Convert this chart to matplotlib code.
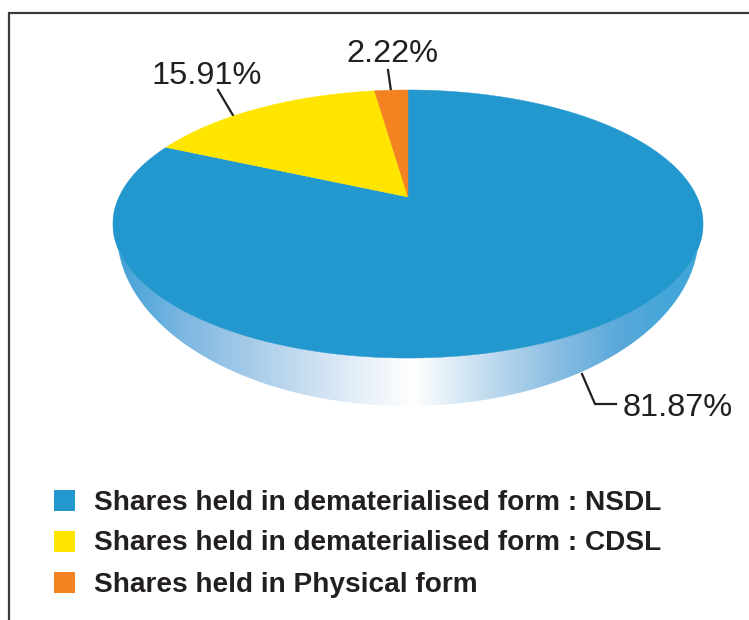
import numpy as np
import matplotlib
matplotlib.use("Agg")
import matplotlib.pyplot as plt
from matplotlib.patches import Polygon, Rectangle
from matplotlib.colors import LinearSegmentedColormap

categories = ["Shares held in dematerialised form : NSDL",
              "Shares held in dematerialised form : CDSL",
              "Shares held in Physical form"]
shares = [81.87, 15.91, 2.22]
colors = ["#2398CE", "#FFE500", "#F58220"]
value_labels = ["81.87%", "15.91%", "2.22%"]

plt.rcParams['font.family'] = ['Liberation Sans', 'DejaVu Sans']
INK = "#231F20"

fig = plt.figure(figsize=(7.49, 6.20), dpi=100)
ax = fig.add_axes([0, 0, 1, 1])
ax.set_xlim(0, 749)
ax.set_ylim(620, 0)
ax.axis("off")

# frame
ax.plot([8.5, 8.5, 749], [620, 12.5, 12.5], color="#3A3A3A", lw=1.6, solid_joinstyle="miter")

# perspective disc geometry (pixel space)
CX, CY = 408.0, 197.0
A, B, K = 128.6, 289.0, 0.2015


def rim(frac):
    """Map clockwise-from-top fractions of the circle to the tilted disc."""
    th = 2 * np.pi * np.asarray(frac)
    u, v = np.sin(th), np.cos(th)
    d = 1 + K * v
    return CX + B * u / d, CY - A * v / d


# side wall with gradient
t = np.linspace(0, 1, 721)
xt, yt = rim(t)
low_rx, low_ry, low_cy = 291.0, 173.0, 233.0
phi = np.linspace(np.pi, 0, 400)
xl = CX + low_rx * np.cos(phi)
yl = low_cy + low_ry * np.sin(phi)
wall = Polygon(np.column_stack([np.r_[xl, xt], np.r_[yl, yt]]), closed=True,
               facecolor="none", edgecolor="none")
ax.add_patch(wall)
stops = [(113, "#3FA0D6"), (183, "#7DB8E2"), (233, "#9DC6E7"), (300, "#C5DCF0"),
         (380, "#F0F5FB"), (415, "#FFFFFF"), (450, "#E0EDF7"), (550, "#8FC0E3"),
         (620, "#5BA9DB"), (670, "#43A5D8"), (703, "#43A5D8")]
lo, hi = stops[0][0], stops[-1][0]
cmap = LinearSegmentedColormap.from_list("wall", [((x - lo) / (hi - lo), c) for x, c in stops])
im = ax.imshow(np.linspace(0, 1, 590)[None, :], cmap=cmap, extent=(lo, hi, 420, 200),
               aspect="auto", zorder=1, interpolation="bilinear")
im.set_clip_path(wall)
ax.set_xlim(0, 749)
ax.set_ylim(620, 0)

# slices from the values, clockwise from 12 o'clock
edges = np.r_[0, np.cumsum(shares)] / np.sum(shares)
for f0, f1, c in zip(edges[:-1], edges[1:], colors):
    x, y = rim(np.linspace(f0, f1, 400))
    ax.add_patch(Polygon(np.column_stack([np.r_[CX, x], np.r_[CY, y]]), closed=True,
                         facecolor=c, edgecolor=c, lw=0.3, zorder=2))

# leaders
lw = 1.6
ax.plot([582, 595, 616], [374, 404, 404], color=INK, lw=lw, zorder=1.5, solid_joinstyle="miter")
ax.plot([218, 234], [90, 117], color=INK, lw=lw, zorder=1.5)
ax.plot([388, 391], [70, 91], color=INK, lw=lw, zorder=1.5)

# value labels
lab_pos = [(678, 415.5), (206.5, 83.5), (392, 62)]
for (lx, ly), s in zip(lab_pos, value_labels):
    ax.text(lx, ly, s, ha="center", va="baseline", fontsize=23.4, color=INK, zorder=3)

# legend
leg_y = [500.5, 541.5, 582.5]
leg_base = [510.5, 549.5, 591.5]
for y, b, c, s in zip(leg_y, leg_base, colors, categories):
    ax.add_patch(Rectangle((54, y - 10.5), 21, 21, facecolor=c, edgecolor="none"))
    ax.text(94, b, s, ha="left", va="baseline", fontsize=20.2, fontweight="bold", color=INK)

fig.savefig("out.png", dpi=100)
